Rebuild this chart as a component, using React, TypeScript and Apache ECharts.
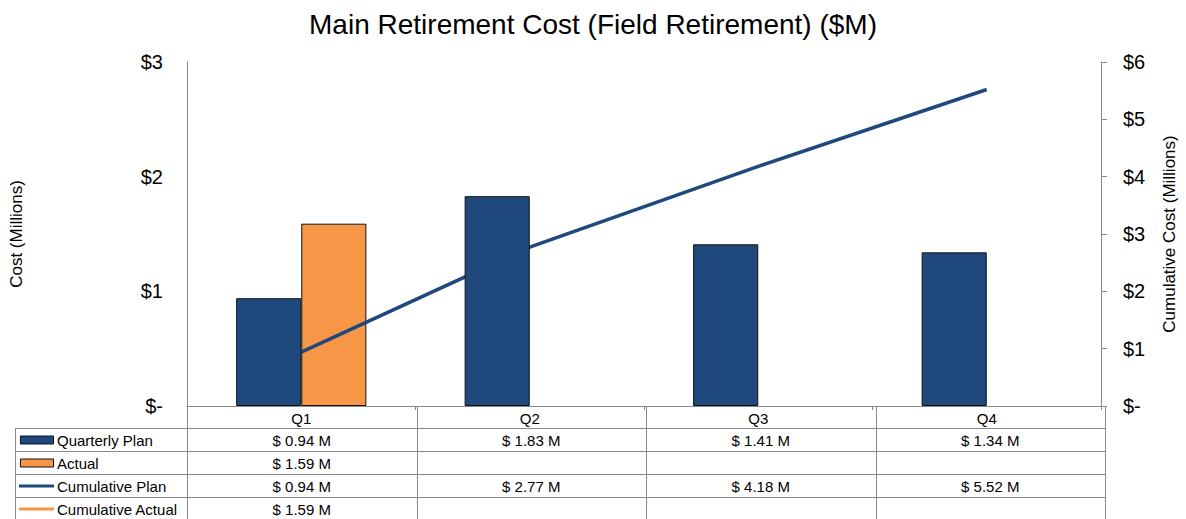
import React, { useEffect, useRef } from "react";
import * as echarts from "echarts";

const categories = ["Q1", "Q2", "Q3", "Q4"];
const quarterlyPlan: (number | null)[] = [0.94, 1.83, 1.41, 1.34];
const actual: (number | null)[] = [1.59, null, null, null];
const cumulativePlan: (number | null)[] = [0.94, 2.77, 4.18, 5.52];
const cumulativeActual: (number | null)[] = [1.59, null, null, null];
const seriesNames = ["Quarterly Plan", "Actual", "Cumulative Plan", "Cumulative Actual"];

const BLUE = "#1F497D";
const ORANGE = "#F79646";
const FONT = "'Liberation Sans', Arial, sans-serif";
const GRID_COLOR = "#8a8a8a";

const W = 1186;
const H = 519;
const GL = 187;
const GR = 1105;
const GT = 62;
const GB = 406;

const fmt = (v: number | null) => (v == null ? "" : `$ ${v.toFixed(2)} M`);
const axisFmt = (v: number) => (v === 0 ? "$-" : `$${v}`);

function buildTable() {
  const els: any[] = [];
  const colW = (GR - GL) / categories.length;
  const rowTop = 428;
  const rowH = 23;
  const tableLeft = 15;
  const rows = [quarterlyPlan, actual, cumulativePlan, cumulativeActual];
  const lineStyle = { stroke: GRID_COLOR, lineWidth: 1 };
  for (let r = 0; r < rows.length; r++) {
    const y = rowTop + r * rowH + 0.5;
    els.push({ type: "line", shape: { x1: tableLeft, y1: y, x2: GR, y2: y }, style: lineStyle, silent: true });
  }
  els.push({ type: "line", shape: { x1: tableLeft + 0.5, y1: rowTop, x2: tableLeft + 0.5, y2: H }, style: lineStyle });
  for (let c = 0; c <= categories.length; c++) {
    const x = Math.round(GL + c * colW) + 0.5;
    els.push({ type: "line", shape: { x1: x, y1: GB, x2: x, y2: H }, style: lineStyle });
  }
  rows.forEach((vals, r) => {
    const cy = rowTop + r * rowH + rowH / 2 + 0.5;
    if (r < 2) {
      els.push({
        type: "rect",
        shape: { x: 20.5, y: cy - 4, width: 33, height: 8 },
        style: { fill: r === 0 ? BLUE : ORANGE, stroke: "#111", lineWidth: 1 },
      });
    } else {
      els.push({
        type: "line",
        shape: { x1: 19, y1: cy, x2: 54, y2: cy },
        style: { stroke: r === 2 ? BLUE : ORANGE, lineWidth: 3 },
      });
    }
    els.push({
      type: "text",
      x: 57,
      y: cy,
      style: { text: seriesNames[r], font: `15px ${FONT}`, fill: "#000", verticalAlign: "middle", align: "left" },
    });
    vals.forEach((v, c) => {
      if (v == null) return;
      els.push({
        type: "text",
        x: GL + colW * (c + 0.5),
        y: cy,
        style: { text: fmt(v), font: `15px ${FONT}`, fill: "#000", verticalAlign: "middle", align: "center" },
      });
    });
  });
  return els;
}

export default function App() {
  const ref = useRef<HTMLDivElement>(null);
  useEffect(() => {
    document.body.style.margin = "0";
    if (!ref.current) return;
    const chart = echarts.init(ref.current, null, { renderer: "svg" });
    chart.setOption({
      animation: false,
      backgroundColor: "#fff",
      title: {
        text: "Main Retirement Cost (Field Retirement) ($M)",
        left: "center",
        top: 5,
        textStyle: { fontFamily: FONT, fontSize: 28, fontWeight: "normal", color: "#000" },
      },
      grid: { left: GL, right: W - GR, top: GT, bottom: H - GB, containLabel: false },
      xAxis: {
        type: "category",
        data: categories,
        axisLine: { lineStyle: { color: GRID_COLOR, width: 1 } },
        axisTick: { show: true, length: 4, lineStyle: { color: GRID_COLOR } },
        axisLabel: { fontFamily: FONT, fontSize: 15, color: "#000", margin: 5 },
      },
      yAxis: [
        {
          type: "value",
          min: 0,
          max: 3,
          interval: 1,
          name: "Cost (Millions)",
          nameLocation: "middle",
          nameRotate: 90,
          nameGap: 162,
          nameTextStyle: { fontFamily: FONT, fontSize: 17, color: "#000" },
          axisLine: { show: true, lineStyle: { color: GRID_COLOR } },
          axisTick: { show: false },
          splitLine: { show: false },
          axisLabel: { fontFamily: FONT, fontSize: 20, color: "#000", margin: 24, formatter: axisFmt },
        },
        {
          type: "value",
          min: 0,
          max: 6,
          interval: 1,
          position: "right",
          name: "Cumulative Cost (Millions)",
          nameLocation: "middle",
          nameRotate: 90,
          nameGap: 60,
          nameTextStyle: { fontFamily: FONT, fontSize: 17, color: "#000" },
          axisLine: { show: true, lineStyle: { color: GRID_COLOR } },
          axisTick: { show: true, inside: false, length: 6, lineStyle: { color: GRID_COLOR } },
          splitLine: { show: false },
          axisLabel: { fontFamily: FONT, fontSize: 20, color: "#000", margin: 22, formatter: axisFmt },
        },
      ],
      series: [
        {
          name: seriesNames[0],
          type: "bar",
          data: quarterlyPlan,
          yAxisIndex: 0,
          barGap: "0%",
          barCategoryGap: "43%",
          z: 4,
          itemStyle: { color: BLUE, borderColor: "#111", borderWidth: 1 },
        },
        {
          name: seriesNames[1],
          type: "bar",
          data: actual,
          yAxisIndex: 0,
          barGap: "0%",
          barCategoryGap: "43%",
          z: 2,
          itemStyle: { color: ORANGE, borderColor: "#111", borderWidth: 1 },
        },
        {
          name: seriesNames[2],
          type: "line",
          data: cumulativePlan,
          yAxisIndex: 1,
          z: 3,
          showSymbol: false,
          symbol: "none",
          lineStyle: { color: BLUE, width: 3.5 },
        },
        {
          name: seriesNames[3],
          type: "line",
          data: cumulativeActual,
          yAxisIndex: 1,
          z: 3,
          showSymbol: false,
          symbol: "none",
          lineStyle: { color: ORANGE, width: 3.5 },
        },
      ],
      graphic: buildTable(),
    });
    return () => chart.dispose();
  }, []);
  return <div ref={ref} style={{ width: W, height: H }} />;
}
